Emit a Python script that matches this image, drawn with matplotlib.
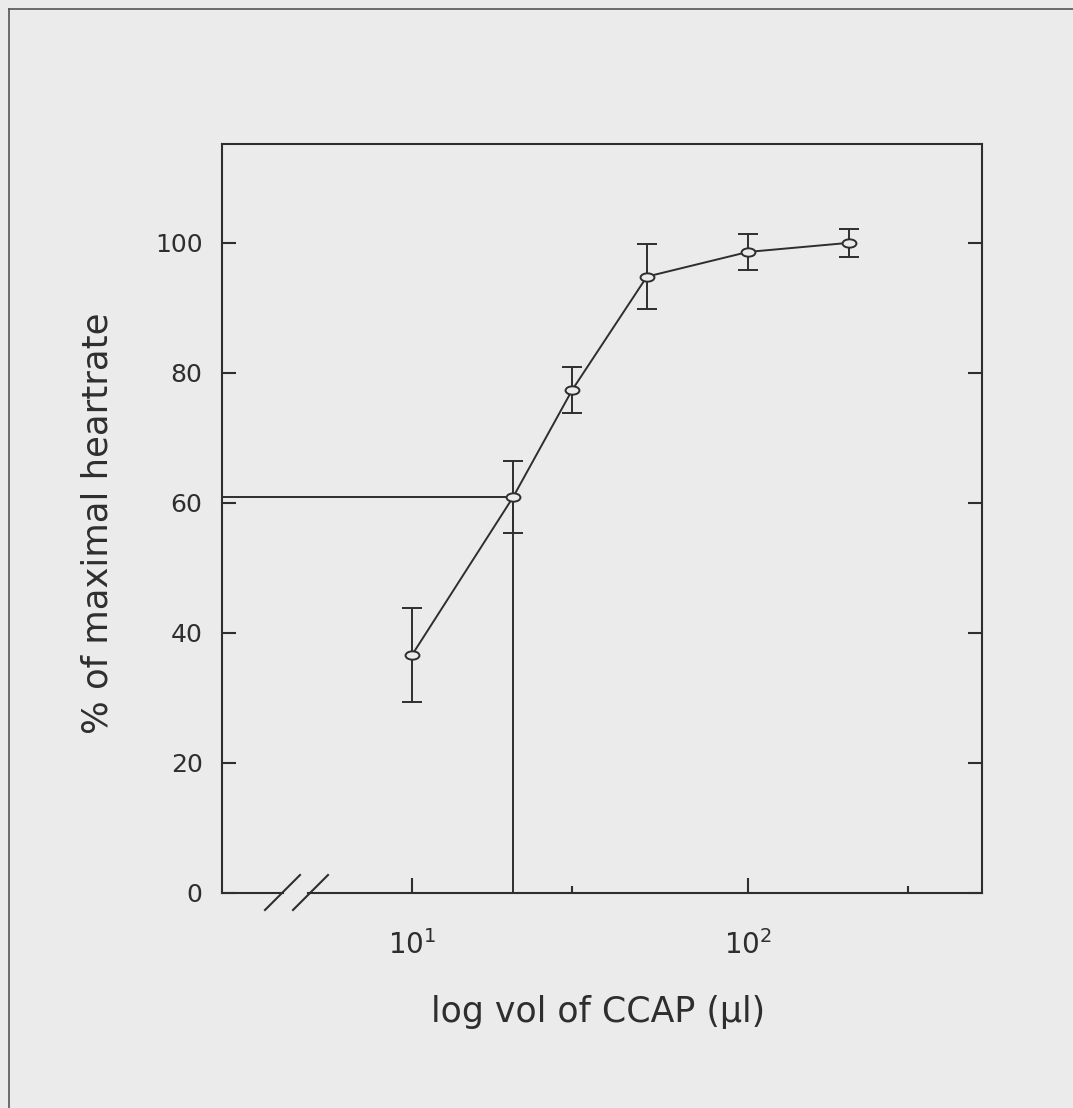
#dose-response plot: heartrate vs volume of CCAP, log x axis

import matplotlib.pyplot as plt
import numpy as np
from matplotlib.path import Path
from matplotlib.lines import Line2D

vol_ul = [10, 20, 30, 50, 100, 200]
pct_max = [36.6, 60.9, 77.4, 94.8, 98.6, 100.0]
err = [7.3, 5.6, 3.5, 5.0, 2.8, 2.2]

# marked level (point at 20 ul)
mark_x = 20
mark_y = 60.9

yticks = [0, 20, 40, 60, 80, 100]
xticks_major = [10, 100]
xticks_minor = [30, 300]

bg = '#ebebeb'
ink = '#2e2e2e'

fig = plt.figure(figsize=(10.73, 11.08), dpi=100, facecolor=bg)
ax = fig.add_axes([222/1073, 215/1108, 760/1073, 749/1108])
ax.set_facecolor(bg)

# flattened circle like the plotter marker
circ = Path.unit_circle()
ell = Path(circ.vertices * np.array([1.0, 0.6]), circ.codes)

ax.set_xscale('log')
ax.set_xlim(2.72, 497)
ax.set_ylim(0, 115.2)

ax.plot([ax.get_xlim()[0], mark_x], [mark_y, mark_y], color=ink, lw=1.4)
ax.plot([mark_x, mark_x], [0, mark_y], color=ink, lw=1.4)

ax.errorbar(vol_ul, pct_max, yerr=err, color=ink, lw=1.4, elinewidth=1.4,
            capsize=7, capthick=1.4, marker=ell, markersize=10,
            mfc=bg, mec=ink, mew=1.4, zorder=3)

ax.set_yticks(yticks)
ax.set_xticks(xticks_major)
ax.set_xticks(xticks_minor, minor=True)
ax.set_xticklabels(['$10^{1}$', '$10^{2}$'])
ax.xaxis.set_minor_formatter(plt.NullFormatter())

ax.tick_params(axis='y', direction='in', length=10, width=1.5, color=ink,
               right=True, labelsize=18, labelcolor=ink, pad=14)
ax.tick_params(axis='x', which='major', direction='in', length=11, width=1.5,
               color=ink, labelsize=20, labelcolor=ink, pad=27)
ax.tick_params(axis='x', which='minor', direction='in', length=5, width=1.5,
               color=ink)
for s in ax.spines.values():
    s.set_color(ink)
    s.set_linewidth(1.5)

# axis break on the bottom spine
ax.spines['bottom'].set_visible(False)
fig.add_artist(Line2D([222/1073, 283/1073], [215/1108, 215/1108],
                      color=ink, lw=1.5))
fig.add_artist(Line2D([308/1073, 982/1073], [215/1108, 215/1108],
                      color=ink, lw=1.5))
for x0 in (265, 293):
    fig.add_artist(Line2D([x0/1073, (x0+35)/1073],
                          [1-910/1108, 1-875/1108], color=ink, lw=1.5))

ax.set_xlabel('log vol of CCAP (μl)', fontsize=25, color=ink)
ax.xaxis.set_label_coords((598-222)/760, (1108-1012-215)/749)
ax.xaxis.label.set_va('center')
ax.set_ylabel('% of maximal heartrate', fontsize=25.5, color=ink)
ax.yaxis.set_label_coords((98-222)/760, (1108-523-215)/749)
ax.yaxis.label.set_va('center')

# scanned page frame (top and left edges)
fig.add_artist(Line2D([9/1073, 1.0], [1-9/1108, 1-9/1108], color='#555555', lw=1.2))
fig.add_artist(Line2D([9/1073, 9/1073], [0, 1-9/1108], color='#555555', lw=1.2))

fig.savefig('out.png', dpi=100, facecolor=bg)
